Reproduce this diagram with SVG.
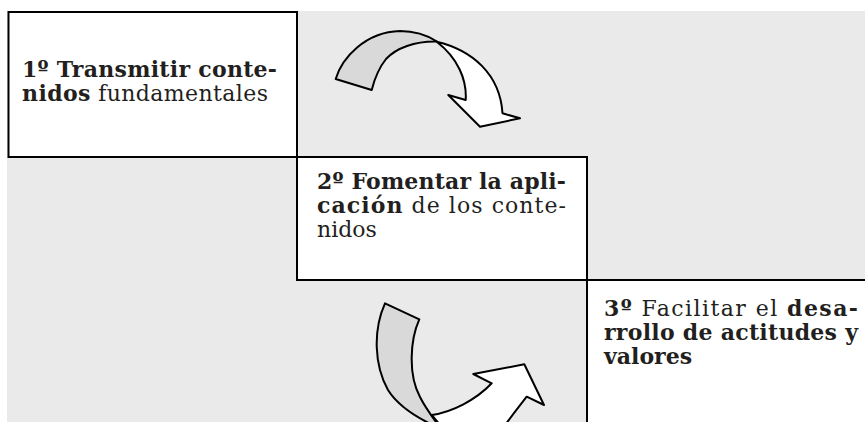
<svg xmlns="http://www.w3.org/2000/svg" width="865" height="422" viewBox="0 0 865 422">
<style>
.box{fill:#fff;stroke:#000;stroke-width:2}
.t{font-family:"DejaVu Serif","Liberation Serif",serif;font-size:22px;fill:#231f20}
.b{font-weight:bold}
.back{fill:#d9d9d9;stroke:#000;stroke-width:2;stroke-linejoin:round}
.front{fill:#fff;stroke:#000;stroke-width:2;stroke-linejoin:round}
</style>
<rect x="7" y="11" width="858" height="411" fill="#eaeaea"/>
<g id="node1">
<rect class="box" x="8.5" y="12" width="288.5" height="145"/>
<text class="t b" x="22" y="76.5" textLength="255" lengthAdjust="spacing">1º Transmitir conte-</text>
<text class="t" x="22" y="100.5" textLength="246" lengthAdjust="spacing"><tspan class="b">nidos</tspan> fundamentales</text>
</g>
<g id="node2">
<rect class="box" x="297" y="157" width="290" height="123"/>
<text class="t b" x="317" y="189" textLength="249" lengthAdjust="spacing">2º Fomentar la apli-</text>
<text class="t" x="317" y="213" textLength="249" lengthAdjust="spacing"><tspan class="b">cación</tspan> de los conte-</text>
<text class="t" x="317" y="237">nidos</text>
</g>
<g id="node3">
<rect class="box" x="587" y="280" width="290" height="150"/>
<text class="t" x="604" y="316" textLength="254" lengthAdjust="spacing"><tspan class="b">3º</tspan> Facilitar el <tspan class="b">desa-</tspan></text>
<text class="t b" x="604" y="340" textLength="254" lengthAdjust="spacing">rrollo de actitudes y</text>
<text class="t b" x="604" y="364">valores</text>
</g>
<g id="connectors">
<g id="arrow1">
<path class="back" d="M335.7,79 C342,58 365,32 400,31 C418,31 430,37 437,41.5 C415,41 396,48 386,59 C378,69 374,81 371.7,90 Z"/>
<path class="front" d="M436.7,41.7 C472,50 500,74 502.5,113.3 L520,118.3 L480,126.7 L448.3,95 L465.7,100 C467,80 458,58 436.7,41.7 Z"/>
</g>
<g id="arrow2">
<path class="back" d="M385,303.3 L419.3,319.3 C410,340 408,375 420,397 C424,405 428,411 436,422 L444,430 C420,420 398,406 388,390 C374,365 373,330 385,303.3 Z"/>
<path class="front" d="M431.7,415 C452,412 476,400 491.7,383.3 L473.3,374 L524.3,364.3 L544,405 L526.7,396.7 C518,408 510,418 500,432 L446,432 Z"/>
</g>
</g>
</svg>
